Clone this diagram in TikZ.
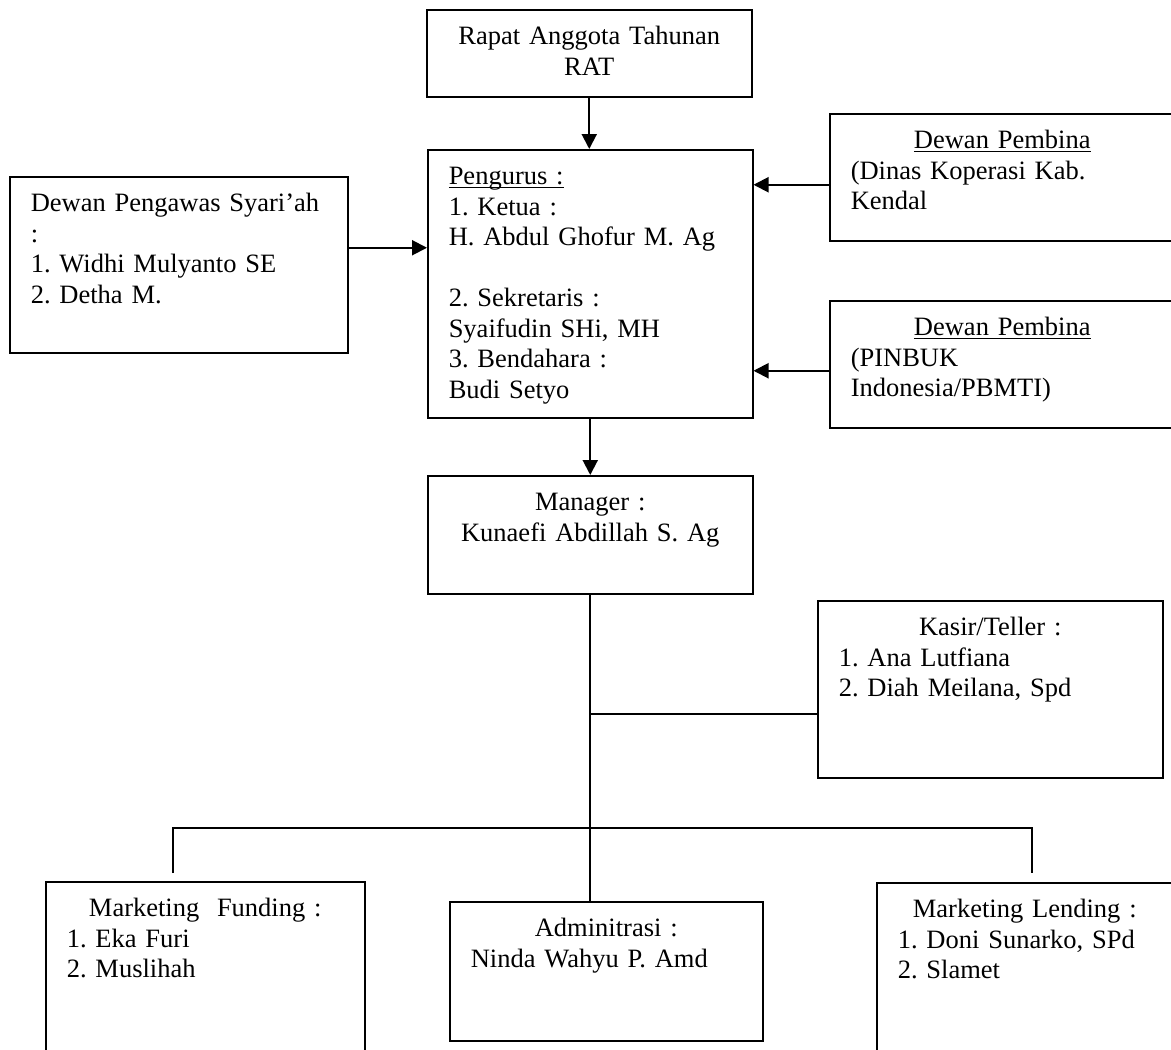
\documentclass[tikz,border=0pt]{standalone}
\usepackage{fontspec}
\setmainfont{Liberation Serif}
\usetikzlibrary{arrows.meta,positioning}
\frenchspacing

\newcommand{\boxtitle}[1]{\makebox[\hsize]{#1}}
\newcommand{\uln}[1]{\underline{\smash{#1}}}

\begin{document}
\begin{tikzpicture}[
                x=0.5pt, y=-0.5pt,
                font=\fontsize{13.25}{15.25}\selectfont,
                box/.style={draw, line width=0.75pt, anchor=north west, inner xsep=10.5pt, inner ysep=0pt, text height=17.5pt, align=left},
                arr/.style={line width=1pt, -{Triangle[length=7.5pt,width=7.5pt]}},
                link/.style={line width=0.8pt}
            ]
                \useasboundingbox (0,0) rectangle (1171,1049);
                \node [box, align=center, text width=141.5pt, text depth=26pt] (rat) at (426,9) {Rapat Anggota Tahunan\\RAT};
                \node [box, text width=141.5pt, text depth=116.5pt] (peng) at (427,149) {\uln{Pengurus :}\\1. Ketua :\\H. Abdul Ghofur M. Ag\\[\baselineskip]2. Sekretaris :\\Syaifudin SHi, MH\\3. Bendahara :\\Budi Setyo};
                \node [box, text width=148pt, text depth=70.5pt] (dps) at (9,176) {Dewan Pengawas Syari’ah\\:\\1. Widhi Mulyanto SE\\2. Detha M.};
                \node [box, text width=151.5pt, text depth=46pt] (pembina1) at (829,113) {\boxtitle{\uln{Dewan Pembina}}\\(Dinas Koperasi Kab.\\Kendal};
                \node [box, text width=151.5pt, text depth=46pt] (pembina2) at (829,300) {\boxtitle{\uln{Dewan Pembina}}\\(PINBUK\\Indonesia/PBMTI)};
                \node [box, align=center, text width=141.5pt, text depth=41.5pt] (mgr) at (427,475) {Manager :\\Kunaefi Abdillah S. Ag};
                \node [box, text width=151.5pt, text depth=71pt] (kasir) at (817,600) {\boxtitle{Kasir/Teller :}\\1. Ana Lutfiana\\2. Diah Meilana, Spd};
                \node [box, text width=138.5pt, text depth=75pt] (mf) at (45,881) {\boxtitle{Marketing\ \ Funding :}\\1. Eka Furi\\2. Muslihah};
                \node [box, text width=135.5pt, text depth=52pt] (admin) at (449,901) {\boxtitle{Adminitrasi :}\\Ninda Wahyu P. Amd};
                \node [box, text width=127pt, text depth=74.5pt] (lend) at (876,882) {\boxtitle{Marketing Lending :}\\1. Doni Sunarko, SPd\\2. Slamet};

                % arrows into Pengurus
                \draw [arr] (rat.south) -- (rat.south |- peng.north);
                \coordinate (dpsout) at ([yshift=8.5pt]dps.east);
                \draw [arr] (dpsout) -- (dpsout -| peng.west);
                \coordinate (pb1out) at ([yshift=-3.75pt]pembina1.west);
                \draw [arr] (pb1out) -- (pb1out -| peng.east);
                \coordinate (pb2out) at ([yshift=-3.25pt]pembina2.west);
                \draw [arr] (pb2out) -- (pb2out -| peng.east);
                \draw [arr] (peng.south) -- (peng.south |- mgr.north);

                % lines below Manager
                \draw [link] (mgr.south) -- (mgr.south |- admin.north);
                \coordinate (kasirin) at ([yshift=-12.25pt]kasir.west);
                \draw [link] (kasirin) -- (kasirin -| mgr.south);
                \coordinate (busleft) at (173,828);
                \coordinate (busright) at (1032,828);
                \draw [link] (busleft) ++(0,45) -- (busleft) -- (busright) -- ++(0,45);
            \end{tikzpicture}
\end{document}
